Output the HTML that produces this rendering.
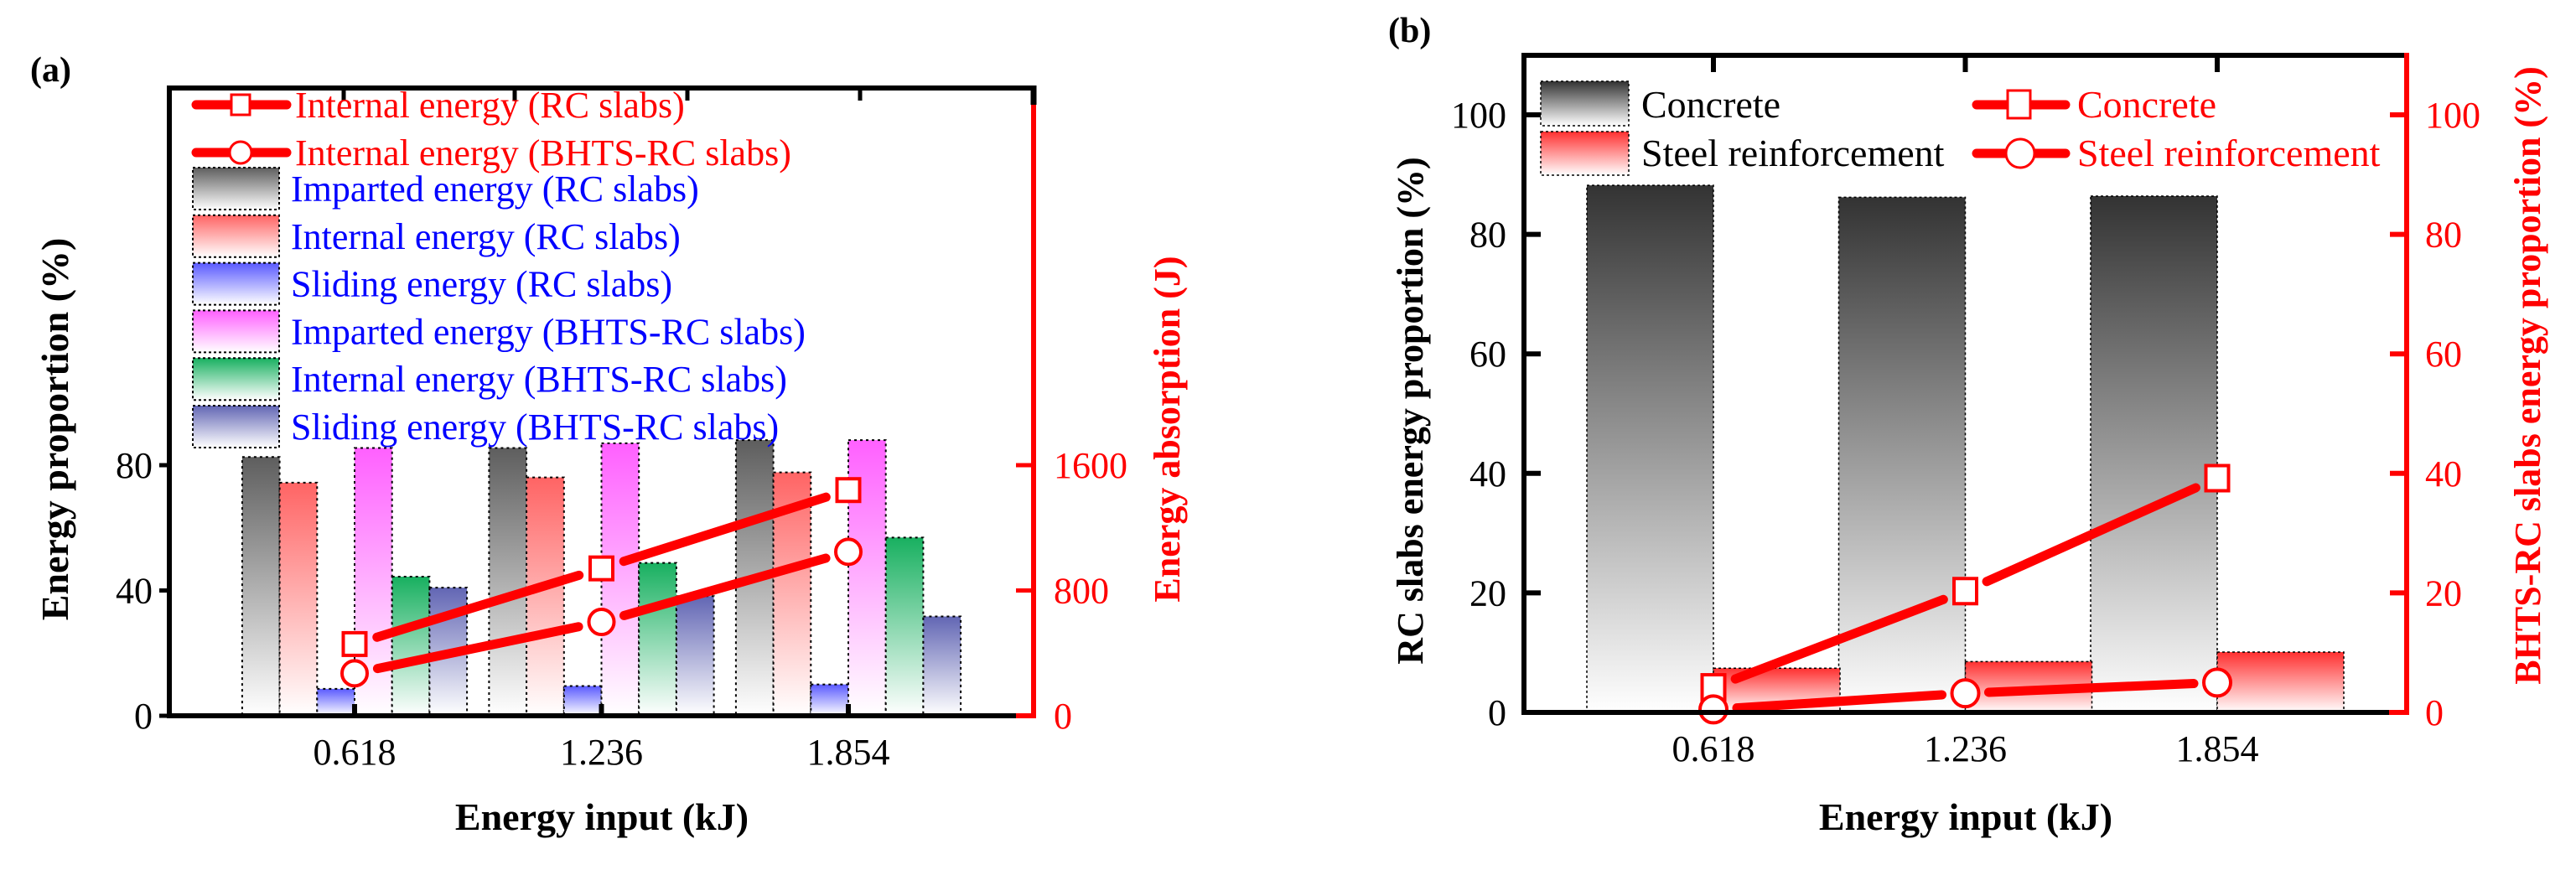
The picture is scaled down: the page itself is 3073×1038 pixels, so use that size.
<!DOCTYPE html>
<html><head><meta charset="utf-8"><style>
html,body{margin:0;padding:0;background:#fff;}
svg text{font-family:"Liberation Serif","Times New Roman",Times,"DejaVu Serif",serif !important;}
</style></head><body>
<svg id="fig" width="3073" height="1033" viewBox="0 0 3073 1033" xmlns="http://www.w3.org/2000/svg">
<defs>
<linearGradient id="gGray" x1="0" y1="0" x2="0" y2="1"><stop offset="0" stop-color="#5e5e5e"/><stop offset="1" stop-color="#ffffff"/></linearGradient>
<linearGradient id="gDark" x1="0" y1="0" x2="0" y2="1"><stop offset="0" stop-color="#333333"/><stop offset="1" stop-color="#ffffff"/></linearGradient>
<linearGradient id="gRed" x1="0" y1="0" x2="0" y2="1"><stop offset="0" stop-color="#ff6464"/><stop offset="1" stop-color="#ffffff"/></linearGradient>
<linearGradient id="gRed2" x1="0" y1="0" x2="0" y2="1"><stop offset="0" stop-color="#ff3030"/><stop offset="1" stop-color="#ffffff"/></linearGradient>
<linearGradient id="gBlue" x1="0" y1="0" x2="0" y2="1"><stop offset="0" stop-color="#5a5aff"/><stop offset="1" stop-color="#ffffff"/></linearGradient>
<linearGradient id="gMag" x1="0" y1="0" x2="0" y2="1"><stop offset="0" stop-color="#ff60ff"/><stop offset="1" stop-color="#ffffff"/></linearGradient>
<linearGradient id="gGreen" x1="0" y1="0" x2="0" y2="1"><stop offset="0" stop-color="#18b060"/><stop offset="1" stop-color="#ffffff"/></linearGradient>
<linearGradient id="gNavy" x1="0" y1="0" x2="0" y2="1"><stop offset="0" stop-color="#6266b4"/><stop offset="1" stop-color="#ffffff"/></linearGradient>
</defs>
<g id="pa"></g>
<g id="pb"></g>
</svg>
<script>
// ---------- Panel (a) data ----------
const catsA = ["0.618", "1.236", "1.854"];
const impartedRC = [82.6, 85.5, 88.0];
const internalRC = [74.4, 76.1, 77.7];
const slidingRC = [8.6, 9.5, 10.0];
const impartedBH = [85.5, 87.0, 88.0];
const internalBH = [44.4, 48.8, 56.9];
const slidingBH = [40.9, 38.2, 31.7];
const absorbRC = [458, 941, 1441];
const absorbBH = [271, 599, 1047];
const leftTicksA = [0, 40, 80];
const rightTicksA = [0, 800, 1600];
// ---------- Panel (b) data ----------
const catsB = ["0.618", "1.236", "1.854"];
const concreteRC = [88.2, 86.2, 86.4];
const steelRC = [7.4, 8.5, 10.1];
const concreteBH = [4.2, 20.3, 39.2];
const steelBH = [0.5, 3.2, 5.0];
const ticksB = [0, 20, 40, 60, 80, 100];

const NS = "http://www.w3.org/2000/svg";
function mk(parent, tag, attrs, text){
  const e = document.createElementNS(NS, tag);
  for (const k in attrs) e.setAttribute(k, attrs[k]);
  if (tag === 'text') e.style.fontFamily = '"Liberation Serif", "Times New Roman", Times, "DejaVu Serif", serif';
  if (text !== undefined) e.textContent = text;
  parent.appendChild(e);
  return e;
}

// ======== Panel A ========
(function(){
  const g = document.getElementById('pa');
  const L=202, R=1233, T=105, B=854;
  const yL = v => B - v*(B-555)/80;
  const yR = v => B - v*(B-555)/1600;
  const xC = i => 423 + i*294.5;
  const bw = 44.7;
  const series = [
    [impartedRC,"url(#gGray)","bar-imparted-rc"],
    [internalRC,"url(#gRed)","bar-internal-rc"],
    [slidingRC,"url(#gBlue)","bar-sliding-rc"],
    [impartedBH,"url(#gMag)","bar-imparted-bhts"],
    [internalBH,"url(#gGreen)","bar-internal-bhts"],
    [slidingBH,"url(#gNavy)","bar-sliding-bhts"]
  ];
  series.forEach((s,si)=>{
    s[0].forEach((v,i)=>{
      const x = xC(i) - 3*bw + si*bw;
      const r = mk(g,'rect',{x:x,y:yL(v),width:bw,height:B-yL(v),fill:s[1],stroke:'#000','stroke-width':2,'stroke-dasharray':'3,4'});
      
      
    });
  });
  function series2(vals, marker, name){
    for(let i=0;i<vals.length-1;i++){
      const x1=xC(i),y1=yR(vals[i]),x2=xC(i+1),y2=yR(vals[i+1]);
      const dx=x2-x1,dy=y2-y1,len=Math.hypot(dx,dy),ux=dx/len,uy=dy/len;
      const l = mk(g,'line',{x1:x1+ux*28,y1:y1+uy*28,x2:x2-ux*28,y2:y2-uy*28,stroke:'#ff0000','stroke-width':11,'stroke-linecap':'round'});
      
      
    }
    vals.forEach((v,i)=>{
      let m;
      if(marker==='sq') m = mk(g,'rect',{x:xC(i)-13.5,y:yR(v)-13.5,width:27,height:27,fill:'#fff',stroke:'#ff0000','stroke-width':4});
      else m = mk(g,'circle',{cx:xC(i),cy:yR(v),r:15,fill:'#fff',stroke:'#ff0000','stroke-width':4});
      
      
    });
  }
  series2(absorbRC,'sq','internal-energy-rc');
  series2(absorbBH,'ci','internal-energy-bhts');
  mk(g,'line',{x1:L,y1:T,x2:R,y2:T,stroke:'#000','stroke-width':6});
  mk(g,'line',{x1:L,y1:T-3,x2:L,y2:B+3,stroke:'#000','stroke-width':6});
  mk(g,'line',{x1:L-3,y1:B,x2:1212,y2:B,stroke:'#000','stroke-width':6});
  mk(g,'line',{x1:1212,y1:B,x2:R+3,y2:B,stroke:'#ff0000','stroke-width':6});
  mk(g,'line',{x1:R,y1:T-3,x2:R,y2:125,stroke:'#000','stroke-width':7});
  mk(g,'line',{x1:R,y1:125,x2:R,y2:B+3,stroke:'#ff0000','stroke-width':6});
  [410,614,820,1026].forEach(x=>mk(g,'line',{x1:x,y1:T,x2:x,y2:T+15,stroke:'#000','stroke-width':5}));
  leftTicksA.forEach(v=>{
    mk(g,'line',{x1:L-12,y1:yL(v),x2:L,y2:yL(v),stroke:'#000','stroke-width':5});
    const t = mk(g,'text',{x:182,y:yL(v)+15,'font-size':44,'text-anchor':'end'},String(v));
    
    
  });
  rightTicksA.forEach(v=>{
    mk(g,'line',{x1:1212,y1:yR(v),x2:R,y2:yR(v),stroke:'#ff0000','stroke-width':5});
    const t = mk(g,'text',{x:1257,y:yR(v)+15,'font-size':44,fill:'#ff0000'},String(v));
    
    
  });
  catsA.forEach((c,i)=>{
    mk(g,'line',{x1:xC(i),y1:B,x2:xC(i),y2:B-14,stroke:'#000','stroke-width':6});
    const t = mk(g,'text',{x:xC(i),y:912,'font-size':44,'text-anchor':'middle'},c);
    
    
  });
  const lg = mk(g,'g',{});
  
  
  const lineRows = [[125,'sq','Internal energy (RC slabs)'],[182,'ci','Internal energy (BHTS-RC slabs)']];
  lineRows.forEach(r=>{
    mk(lg,'line',{x1:234,y1:r[0],x2:342,y2:r[0],stroke:'#ff0000','stroke-width':11,'stroke-linecap':'round'});
    if(r[1]==='sq') mk(lg,'rect',{x:276,y:r[0]-12,width:22,height:24,fill:'#fff',stroke:'#ff0000','stroke-width':3});
    else mk(lg,'circle',{cx:287,cy:r[0],r:13,fill:'#fff',stroke:'#ff0000','stroke-width':3});
    const t = mk(lg,'text',{x:352,y:r[0]+15,'font-size':44,fill:'#ff0000'},r[2]);
    
    
  });
  const barRows = [['url(#gGray)','Imparted energy (RC slabs)'],['url(#gRed)','Internal energy (RC slabs)'],['url(#gBlue)','Sliding energy (RC slabs)'],['url(#gMag)','Imparted energy (BHTS-RC slabs)'],['url(#gGreen)','Internal energy (BHTS-RC slabs)'],['url(#gNavy)','Sliding energy (BHTS-RC slabs)']];
  barRows.forEach((r,i)=>{
    const cy = 225 + i*56.8;
    mk(lg,'rect',{x:230,y:cy-25,width:103,height:50,fill:r[0],stroke:'#000','stroke-width':2,'stroke-dasharray':'3,3'});
    const t = mk(lg,'text',{x:347,y:cy+15,'font-size':44,fill:'#0000ff'},r[1]);
    
    
  });
  const a = mk(g,'text',{x:36,y:97,'font-size':42,'font-weight':'bold'},'(a)');
   
  const yt = mk(g,'text',{x:0,y:0,'font-size':46,'font-weight':'bold','text-anchor':'middle',transform:'translate(81,512) rotate(-90)'},'Energy proportion (%)');
   
  const rt = mk(g,'text',{x:0,y:0,'font-size':44,'font-weight':'bold','text-anchor':'middle',fill:'#ff0000',transform:'translate(1407,512) rotate(-90)'},'Energy absorption (J)');
   
  const xt = mk(g,'text',{x:718,y:990,'font-size':46,'font-weight':'bold','text-anchor':'middle'},'Energy input (kJ)');
   
})();

// ======== Panel B ========
(function(){
  const g = document.getElementById('pb');
  const L=1818, R=2871, T=66, B=850;
  const y = v => B - v*(B-137)/100;
  const xC = i => 2044 + i*300.5;
  const bw = 151;
  concreteRC.forEach((v,i)=>{
    const r = mk(g,'rect',{x:xC(i)-bw,y:y(v),width:bw,height:B-y(v),fill:'url(#gDark)',stroke:'#000','stroke-width':1.5,'stroke-dasharray':'3,3'});
    
    
  });
  steelRC.forEach((v,i)=>{
    const r = mk(g,'rect',{x:xC(i),y:y(v),width:bw,height:B-y(v),fill:'url(#gRed2)',stroke:'#000','stroke-width':1.5,'stroke-dasharray':'3,3'});
    
    
  });
  function series2(vals, marker, name){
    for(let i=0;i<vals.length-1;i++){
      const x1=xC(i),y1=y(vals[i]),x2=xC(i+1),y2=y(vals[i+1]);
      const dx=x2-x1,dy=y2-y1,len=Math.hypot(dx,dy),ux=dx/len,uy=dy/len;
      const l = mk(g,'line',{x1:x1+ux*28,y1:y1+uy*28,x2:x2-ux*28,y2:y2-uy*28,stroke:'#ff0000','stroke-width':11,'stroke-linecap':'round'});
      
      
    }
    vals.forEach((v,i)=>{
      let m;
      if(marker==='sq') m = mk(g,'rect',{x:xC(i)-13.5,y:y(v)-15,width:27,height:30,fill:'#fff',stroke:'#ff0000','stroke-width':4});
      else m = mk(g,'circle',{cx:xC(i),cy:y(v),r:16,fill:'#fff',stroke:'#ff0000','stroke-width':4});
      
      
    });
  }
  series2(concreteBH,'sq','concrete-bhts');
  series2(steelBH,'ci','steel-bhts');
  mk(g,'line',{x1:L,y1:T,x2:R,y2:T,stroke:'#000','stroke-width':6});
  mk(g,'line',{x1:L,y1:T-3,x2:L,y2:B+3,stroke:'#000','stroke-width':6});
  mk(g,'line',{x1:L-3,y1:B,x2:2850,y2:B,stroke:'#000','stroke-width':6});
  mk(g,'line',{x1:2850,y1:B,x2:R,y2:B,stroke:'#ff0000','stroke-width':6});
  mk(g,'line',{x1:R,y1:T-3,x2:R,y2:B+3,stroke:'#ff0000','stroke-width':6});
  catsB.forEach((c,i)=>{
    mk(g,'line',{x1:xC(i),y1:T,x2:xC(i),y2:T+20,stroke:'#000','stroke-width':6});
    const t = mk(g,'text',{x:xC(i),y:908,'font-size':44,'text-anchor':'middle'},c);
    
    
  });
  ticksB.forEach(v=>{
    mk(g,'line',{x1:L,y1:y(v),x2:L+20,y2:y(v),stroke:'#000','stroke-width':6});
    const t = mk(g,'text',{x:1797,y:y(v)+15,'font-size':44,'text-anchor':'end'},String(v));
    
    
    mk(g,'line',{x1:R-20,y1:y(v),x2:R,y2:y(v),stroke:'#ff0000','stroke-width':6});
    const t2 = mk(g,'text',{x:2893,y:y(v)+15,'font-size':44,fill:'#ff0000'},String(v));
    
    
  });
  const lg = mk(g,'g',{});
  
  
  mk(lg,'rect',{x:1838,y:97,width:105,height:53,fill:'url(#gDark)',stroke:'#000','stroke-width':1.5,'stroke-dasharray':'3,3'});
  mk(lg,'rect',{x:1838,y:157,width:105,height:52,fill:'url(#gRed2)',stroke:'#000','stroke-width':1.5,'stroke-dasharray':'3,3'});
  let t = mk(lg,'text',{x:1958,y:140,'font-size':46},'Concrete');
   
  t = mk(lg,'text',{x:1958,y:198,'font-size':46},'Steel reinforcement');
   
  mk(lg,'line',{x1:2358,y1:125,x2:2464,y2:125,stroke:'#ff0000','stroke-width':11,'stroke-linecap':'round'});
  mk(lg,'rect',{x:2395,y:108,width:27,height:33,fill:'#fff',stroke:'#ff0000','stroke-width':3});
  mk(lg,'line',{x1:2358,y1:183,x2:2464,y2:183,stroke:'#ff0000','stroke-width':11,'stroke-linecap':'round'});
  mk(lg,'circle',{cx:2410,cy:183,r:17,fill:'#fff',stroke:'#ff0000','stroke-width':3});
  t = mk(lg,'text',{x:2478,y:140,'font-size':46,fill:'#ff0000'},'Concrete');
   
  t = mk(lg,'text',{x:2478,y:198,'font-size':46,fill:'#ff0000'},'Steel reinforcement');
   
  const b = mk(g,'text',{x:1656,y:50,'font-size':42,'font-weight':'bold'},'(b)');
   
  const yt = mk(g,'text',{x:0,y:0,'font-size':44,'font-weight':'bold','text-anchor':'middle',transform:'translate(1697,490) rotate(-90)'},'RC slabs energy proportion (%)');
   
  const rt = mk(g,'text',{x:0,y:0,'font-size':44,'font-weight':'bold','text-anchor':'middle',fill:'#ff0000',transform:'translate(3030,448) rotate(-90)'},'BHTS-RC slabs energy proportion (%)');
   
  const xt = mk(g,'text',{x:2345,y:990,'font-size':46,'font-weight':'bold','text-anchor':'middle'},'Energy input (kJ)');
   
})();
</script>
</body></html>
